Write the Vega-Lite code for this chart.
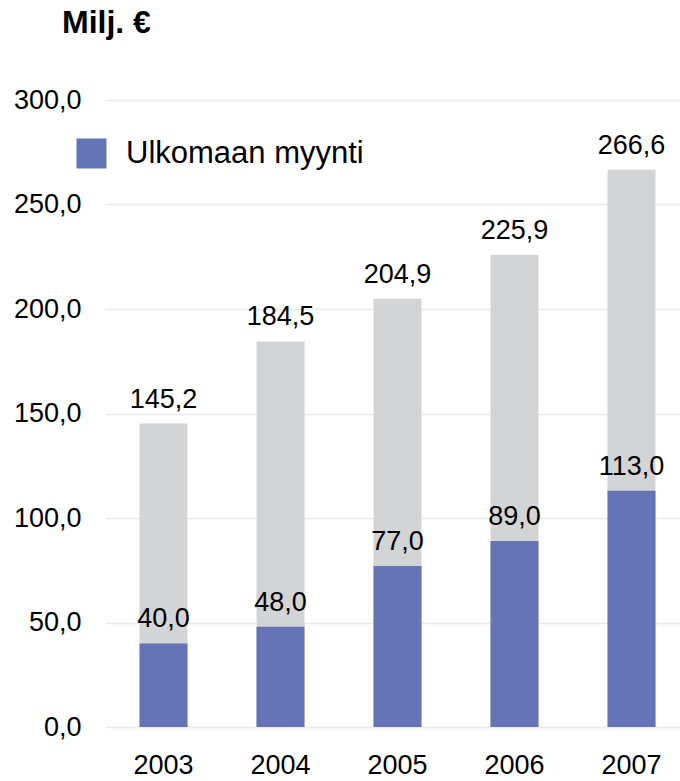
{
  "$schema": "https://vega.github.io/schema/vega-lite/v6.json",
  "autosize": {"type": "none"},
  "padding": {"left": 105, "top": 100, "right": 0, "bottom": 54},
  "width": 575,
  "height": 627,
  "background": "white",
  "title": {
    "text": "Milj. €",
    "anchor": "start",
    "frame": "group",
    "orient": "top",
    "fontSize": 32,
    "fontWeight": "bold",
    "font": "Liberation Sans",
    "color": "#000000",
    "baseline": "alphabetic",
    "dx": -43,
    "offset": 21
  },
  "config": {
    "locale": {"number": {"decimal": ",", "thousands": " ", "grouping": [3], "currency": ["", " €"]}},
    "font": "Liberation Sans",
    "view": {"stroke": null}
  },
  "data": {
    "values": [
      {"year": "2003", "total": 145.2, "foreign": 40.0, "series": "Ulkomaan myynti"},
      {"year": "2004", "total": 184.5, "foreign": 48.0, "series": "Ulkomaan myynti"},
      {"year": "2005", "total": 204.9, "foreign": 77.0, "series": "Ulkomaan myynti"},
      {"year": "2006", "total": 225.9, "foreign": 89.0, "series": "Ulkomaan myynti"},
      {"year": "2007", "total": 266.6, "foreign": 113.0, "series": "Ulkomaan myynti"}
    ]
  },
  "encoding": {
    "x": {
      "field": "year",
      "type": "nominal",
      "scale": {"range": [0, 585], "paddingInner": 0.59, "paddingOuter": 0.295},
      "axis": {
        "title": null,
        "labelAngle": 0,
        "labelFontSize": 27,
        "labelColor": "#000000",
        "labelPadding": 25,
        "domain": false,
        "ticks": false,
        "grid": false
      }
    }
  },
  "layer": [
    {
      "mark": {"type": "bar", "color": "#d3d4d6"},
      "encoding": {
        "y": {
          "field": "total",
          "type": "quantitative",
          "scale": {"domain": [0, 300], "nice": false},
          "axis": {
            "title": null,
            "values": [0, 50, 100, 150, 200, 250, 300],
            "format": ".1f",
            "labelFontSize": 27,
            "labelColor": "#000000",
            "labelPadding": 24,
            "domain": false,
            "ticks": false,
            "gridColor": "#ebebeb",
            "gridWidth": 1.5
          }
        }
      }
    },
    {
      "mark": {"type": "text", "baseline": "alphabetic", "dy": -16, "fontSize": 27, "color": "#000000"},
      "encoding": {
        "y": {"field": "total", "type": "quantitative"},
        "text": {"field": "total", "type": "quantitative", "format": ".1f"}
      }
    },
    {
      "mark": {"type": "bar"},
      "encoding": {
        "y": {"field": "foreign", "type": "quantitative"},
        "color": {
          "field": "series",
          "type": "nominal",
          "scale": {"domain": ["Ulkomaan myynti"], "range": ["#6574b6"]},
          "legend": {
            "title": null,
            "orient": "none",
            "legendX": -29,
            "legendY": 38,
            "symbolType": "square",
            "symbolSize": 900,
            "symbolStrokeWidth": 0,
            "symbolOpacity": 1,
            "labelFontSize": 31,
            "labelColor": "#000000",
            "labelOffset": 19,
            "labelLimit": 0,
            "padding": 0
          }
        }
      }
    },
    {
      "mark": {"type": "text", "baseline": "alphabetic", "dy": -16, "fontSize": 27, "color": "#000000"},
      "encoding": {
        "y": {"field": "foreign", "type": "quantitative"},
        "text": {"field": "foreign", "type": "quantitative", "format": ".1f"}
      }
    }
  ]
}
